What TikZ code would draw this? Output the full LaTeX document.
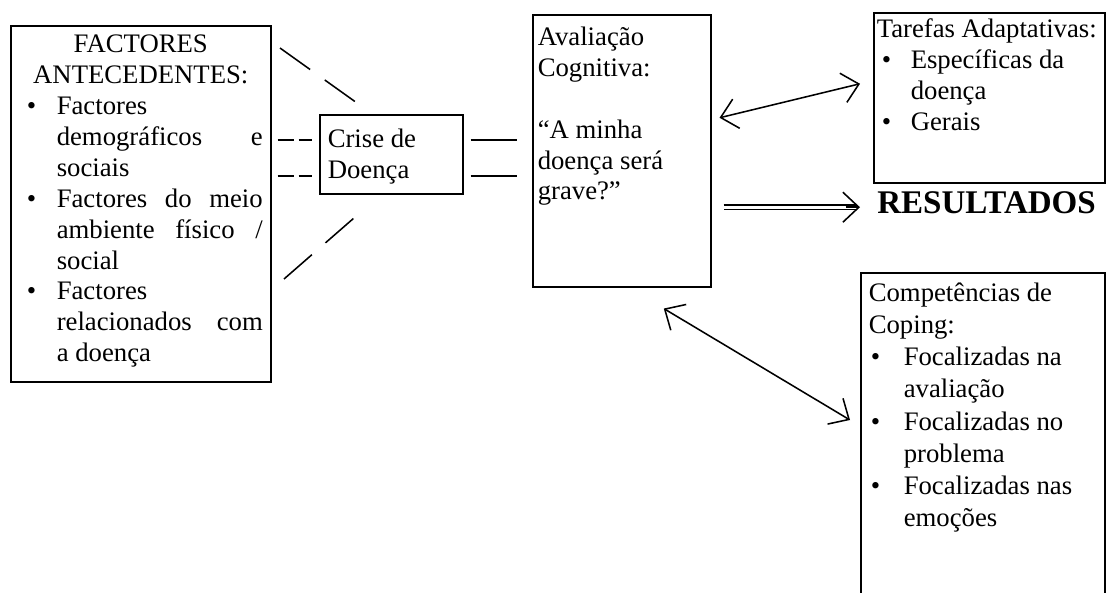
\documentclass[tikz,border=0pt]{standalone}
\usepackage{fontspec}
\setmainfont{Liberation Serif}
\usetikzlibrary{arrows.meta}
\newlength\pxu
\setlength\pxu{0.025cm}
% box contents: height, width, top pad, text
\newcommand{\boxtext}[4]{\parbox[t][#1\pxu][t]{#2\pxu}{\hyphenpenalty=10000\exhyphenpenalty=10000\vspace*{#3\pxu}#4}}
\newcommand{\bitem}[3][2]{\par\noindent\hangindent=#2\pxu\hangafter=1\makebox[#2\pxu][l]{\hspace{#1\pxu}\textbullet}#3}

\begin{document}
\begin{tikzpicture}[%
        x=0.025cm, y=-0.025cm,
        every node/.style={font=\fontsize{19pt}{22pt}\selectfont},
        box/.style={draw, line width=1.1pt, anchor=north west, inner xsep=8\pxu, inner ysep=6\pxu},
        link/.style={line width=1.1pt},
        dashlink/.style={link, dash pattern=on 16\pxu off 5\pxu},
        longdash/.style={link, dash pattern=on 37\pxu off 18\pxu},
        barb/.tip={Straight Barb[length=0.4cm,width=0.75cm]},
        twoway/.style={link, barb-barb},
        >=Straight Barb
      ]
      \useasboundingbox (0,0) rectangle (1111,592);

      \node [box] (factores) at (10,25) {\boxtext{344}{244}{3}{%
        {\centering FACTORES\\ANTECEDENTES:\par}%
        \bitem[8]{38}{Factores\newline demográficos e\linebreak sociais}%
        \bitem[8]{38}{Factores do meio\linebreak ambiente físico /\linebreak social}%
        \bitem[8]{38}{Factores\newline relacionados com\linebreak a doença}}};
      \node [box] (crise) at (319,114) {\boxtext{67}{127}{8}{Crise de\newline Doença}};
      \node [box, inner xsep=5\pxu] (aval) at (532,14) {\boxtext{260}{168}{6}{%
        Avaliação\\Cognitiva:\\[22pt]“A minha\\doença será\\grave?”}};
      \node [box, inner xsep=3\pxu] (tarefas) at (873,12) {\boxtext{158}{225}{0}{%
        Tarefas~Adaptativas:%
        \bitem[5]{34}{Específicas da\newline doença}%
        \bitem[5]{34}{Gerais}}};
      \node [box] (coping) at (860,272) {\boxtext{340}{228}{4}{%
        \fontsize{19pt}{22.9pt}\selectfont
        Competências de\newline Coping:%
        \bitem{35}{Focalizadas na\newline avaliação}%
        \bitem{35}{Focalizadas no\newline problema}%
        \bitem{35}{Focalizadas nas\newline emoções}}};
      \node [anchor=base west, inner sep=0pt, font=\fontsize{23.5pt}{26pt}\selectfont\bfseries] (resultados) at (877,213) {RESULTADOS};

      \coordinate (c1) at ([yshift=14.5\pxu]crise.west);
      \coordinate (c2) at ([yshift=-21.5\pxu]crise.west);
      \coordinate (r0) at ([yshift=-5\pxu]resultados.west);
      \coordinate (ta) at (280,48);
      \coordinate (tb) at (357,103);
      \coordinate (ba) at (284,279);
      \coordinate (bb) at (362,211);

      % factores -- crise
      \draw [longdash] (ta) -- (tb);
      \draw [longdash] (ba) -- (bb);
      \draw [dashlink, shorten <=6\pxu, shorten >=7\pxu] (factores.east |- c1) -- (c1);
      \draw [dashlink, shorten <=6\pxu, shorten >=7\pxu] (factores.east |- c2) -- (c2);
      % crise -- avaliacao
      \draw [link, shorten <=7\pxu, shorten >=15\pxu] (crise.east |- c1) -- (aval.west |- c1);
      \draw [link, shorten <=7\pxu, shorten >=15\pxu] (crise.east |- c2) -- (aval.west |- c2);
      % avaliacao -- resultados
      \draw [twoway] ([xshift=8\pxu,yshift=33\pxu]aval.east) -- ([xshift=-13\pxu,yshift=14\pxu]tarefas.west);
      \draw [twoway] ([xshift=42\pxu,yshift=-21\pxu]aval.south) -- ([xshift=-10\pxu,yshift=-148\pxu]coping.north west);
      \draw [link, double, double distance=3\pxu, shorten <=12\pxu, shorten >=20\pxu] (aval.east |- r0) -- (r0);
      \draw [link, -barb, shorten <=134\pxu, shorten >=17\pxu] (aval.east |- r0) -- (r0);
    \end{tikzpicture}
\end{document}
